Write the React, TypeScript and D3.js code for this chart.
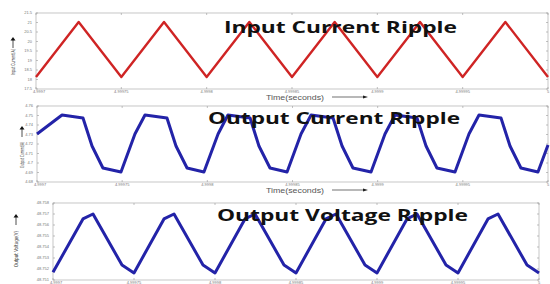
import React from "react";
import * as d3 from "d3";

// time axis (seconds)
const xTicks = [4.9997, 4.99975, 4.9998, 4.99985, 4.9999, 4.99995, 5];
const xTickLabels = ["4.9997", "4.99975", "4.9998", "4.99985", "4.9999", "4.99995", "5"];

// input current ripple (A)
const inTime = [
  4.9997, 4.999725, 4.99975, 4.999775, 4.9998, 4.999825, 4.99985,
  4.999875, 4.9999, 4.999925, 4.99995, 4.999975, 5.0,
];
const inCurrent = [
  18.13, 21.03, 18.13, 21.03, 18.13, 21.03, 18.13,
  21.03, 18.13, 21.03, 18.13, 21.03, 18.13,
];
const inTicks = [17.5, 18, 18.5, 19, 19.5, 20, 20.5, 21, 21.5];

// output current ripple (A)
const outTime = [
  4.9997, 4.9997147, 4.999727, 4.9997323, 4.9997387, 4.9997493,
  4.9997575, 4.9997634, 4.9997763, 4.9997816, 4.9997881, 4.999798,
  4.9998063, 4.9998121, 4.9998251, 4.9998303, 4.9998368, 4.9998468,
  4.999855, 4.9998609, 4.9998738, 4.9998791, 4.9998855, 4.9998961,
  4.9999043, 4.9999102, 4.9999231, 4.9999284, 4.9999348, 4.9999454,
  4.9999536, 4.9999595, 4.9999724, 4.9999777, 4.9999841, 4.9999941,
  5.0,
];
const outCurrent = [
  4.7305, 4.7505, 4.7474, 4.7179, 4.6947, 4.6905,
  4.7305, 4.7505, 4.7474, 4.7179, 4.6947, 4.6905,
  4.7305, 4.7505, 4.7474, 4.7179, 4.6947, 4.6905,
  4.7305, 4.7505, 4.7474, 4.7179, 4.6947, 4.6905,
  4.7305, 4.7505, 4.7474, 4.7179, 4.6947, 4.6905,
  4.7305, 4.7505, 4.7474, 4.7179, 4.6947, 4.6905,
  4.7189,
];
const outCurTicks = [4.68, 4.69, 4.7, 4.71, 4.72, 4.73, 4.74, 4.75, 4.76];

// output voltage ripple (V)
const voltTime = [
  4.9997, 4.9997185, 4.9997247, 4.9997426,
  4.99975, 4.9997685, 4.9997747, 4.9997926,
  4.9998, 4.9998185, 4.9998247, 4.9998426,
  4.99985, 4.9998685, 4.9998747, 4.9998926,
  4.9999, 4.9999185, 4.9999247, 4.9999426,
  4.99995, 4.9999685, 4.9999747, 4.9999926,
  5.0,
];
const voltValue = [
  48.7517, 48.75655, 48.757, 48.75236,
  48.75164, 48.75655, 48.757, 48.75236,
  48.75164, 48.75655, 48.757, 48.75236,
  48.75164, 48.75655, 48.757, 48.75236,
  48.75164, 48.75655, 48.757, 48.75236,
  48.75164, 48.75655, 48.757, 48.75236,
  48.75164,
];
const voltTicks = [48.751, 48.752, 48.753, 48.754, 48.755, 48.756, 48.757, 48.758];

const panels = [
  {
    time: inTime, values: inCurrent, yTicks: inTicks,
    box: { l: 36, r: 548, t: 13, b: 89 },
    color: "#cf2424", width: 2.4,
    title: "Input Current Ripple", titleX: 224, titleY: 33, titleLen: 233,
    ylabel: "Input Current(A)", ylabX: 13, arrowTop: 37, ylabMid: 62, ylabLen: 26,
    xlabelY: 97,
  },
  {
    time: outTime, values: outCurrent, yTicks: outCurTicks,
    box: { l: 37, r: 548, t: 106, b: 182 },
    color: "#2323a8", width: 3,
    title: "Output Current Ripple", titleX: 208, titleY: 124, titleLen: 252,
    ylabel: "Output Current(A)", ylabX: 22, arrowTop: 126, ylabMid: 155, ylabLen: 26,
    xlabelY: 190,
  },
  {
    time: voltTime, values: voltValue, yTicks: voltTicks,
    box: { l: 53, r: 539, t: 203, b: 280 },
    color: "#2323a8", width: 3,
    title: "Output Voltage Ripple", titleX: 217, titleY: 221, titleLen: 251,
    ylabel: "Output Voltage(V)", ylabX: 16, arrowTop: 214, ylabMid: 249, ylabLen: 36,
    xlabelY: null,
  },
];

const Panel = ({ p }: { p: any }) => {
  const { l, r, t, b } = p.box;
  const x = d3.scaleLinear().domain([4.9997, 5.0]).range([l, r]);
  const yExt = d3.extent(p.yTicks) as [number, number];
  const y = d3.scaleLinear().domain(yExt).range([b, t]);
  const line = d3
    .line<number>()
    .x((d, i) => x(p.time[i]))
    .y((d) => y(d));

  return (
    <g>
      <rect x={l} y={t} width={r - l} height={b - t} fill="none" stroke="#b8b8b8" strokeWidth={0.8} />
      {xTicks.map((v, i) => (
        <g key={"x" + i}>
          <line x1={x(v)} x2={x(v)} y1={b} y2={b - 2} stroke="#999" strokeWidth={0.6} />
          <line x1={x(v)} x2={x(v)} y1={t} y2={t + 2} stroke="#999" strokeWidth={0.6} />
          <text x={x(v) + (i === 0 ? 3 : 0)} y={b + 4.3} fontSize={4} fill="#777" textAnchor="middle" fontFamily="Liberation Sans, Arial">
            {xTickLabels[i]}
          </text>
        </g>
      ))}
      {p.yTicks.map((v: number, i: number) => (
        <g key={"y" + i}>
          <line x1={l} x2={l + 2} y1={y(v)} y2={y(v)} stroke="#999" strokeWidth={0.6} />
          <line x1={r} x2={r - 2} y1={y(v)} y2={y(v)} stroke="#999" strokeWidth={0.6} />
          <text x={l - 4} y={y(v) + 1.4} fontSize={4} fill="#777" textAnchor="end" fontFamily="Liberation Sans, Arial">
            {String(v)}
          </text>
        </g>
      ))}
      <path d={line(p.values) || ""} fill="none" stroke={p.color} strokeWidth={p.width} strokeLinejoin="round" />
      <text
        x={p.titleX} y={p.titleY} fontSize={16} fontWeight={700} fill="#111"
        fontFamily="Open Sans, sans-serif" textLength={p.titleLen} lengthAdjust="spacingAndGlyphs"
      >
        {p.title}
      </text>
      {/* y label with up arrow */}
      <line x1={p.ylabX} x2={p.ylabX} y1={p.arrowTop + 2} y2={p.arrowTop + 11} stroke="#222" strokeWidth={0.8} />
      <path
        d={`M${p.ylabX - 2.5},${p.arrowTop + 3.5}L${p.ylabX},${p.arrowTop}L${p.ylabX + 2.5},${p.arrowTop + 3.5}Z`}
        fill="#111"
      />
      <text
        transform={`translate(${p.ylabX + 2},${p.ylabMid}) rotate(-90)`}
        fontSize={5.5} fill="#333" textAnchor="middle" fontFamily="DejaVu Sans Condensed, DejaVu Sans"
        textLength={p.ylabLen} lengthAdjust="spacingAndGlyphs"
      >
        {p.ylabel}
      </text>
      {p.xlabelY !== null && (
        <g>
          <text x={266} y={p.xlabelY + 2.5} fontSize={6.5} fill="#555" fontFamily="Liberation Sans, Arial" textLength={58} lengthAdjust="spacingAndGlyphs">
            Time(seconds)
          </text>
          <line x1={332} x2={364} y1={p.xlabelY} y2={p.xlabelY} stroke="#333" strokeWidth={0.7} />
          <path d={`M363,${p.xlabelY - 1.6}L368,${p.xlabelY}L363,${p.xlabelY + 1.6}Z`} fill="#222" />
        </g>
      )}
    </g>
  );
};

export default function App() {
  return (
    <svg
      width={550}
      height={284}
      style={{ position: "absolute", left: 0, top: 0, background: "#fff" }}
    >
      {panels.map((p, i) => (
        <Panel key={i} p={p} />
      ))}
    </svg>
  );
}
